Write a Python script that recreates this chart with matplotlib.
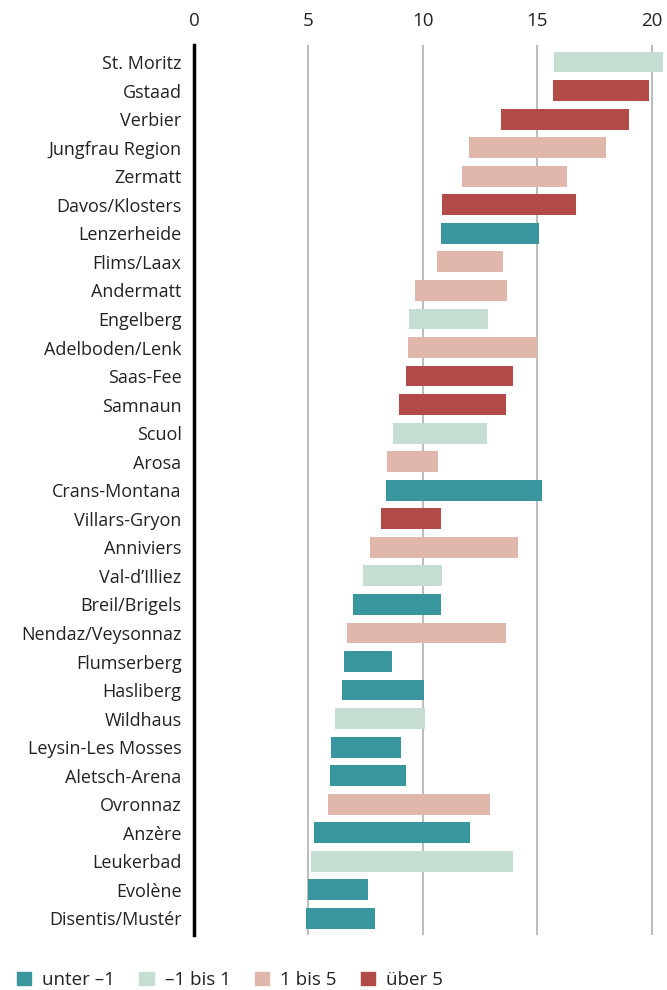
import matplotlib
matplotlib.use("Agg")
import matplotlib.pyplot as plt
from matplotlib.patches import Patch

plt.rcParams['font.family'] = ['Open Sans', 'DejaVu Sans']

resorts = ["St. Moritz", "Gstaad", "Verbier", "Jungfrau Region", "Zermatt", "Davos/Klosters",
           "Lenzerheide", "Flims/Laax", "Andermatt", "Engelberg", "Adelboden/Lenk", "Saas-Fee",
           "Samnaun", "Scuol", "Arosa", "Crans-Montana", "Villars-Gryon", "Anniviers",
           "Val-d\u2019Illiez", "Breil/Brigels", "Nendaz/Veysonnaz", "Flumserberg", "Hasliberg",
           "Wildhaus", "Leysin-Les Mosses", "Aletsch-Arena", "Ovronnaz", "Anzère", "Leukerbad",
           "Evolène", "Disentis/Mustér"]
start = [15.75, 15.7, 13.4, 12.0, 11.7, 10.85, 10.8, 10.6, 9.65, 9.4, 9.37, 9.28, 8.97, 8.7,
         8.45, 8.4, 8.18, 7.7, 7.4, 6.96, 6.7, 6.56, 6.48, 6.17, 6.0, 5.95, 5.86, 5.25, 5.12,
         5.0, 4.9]
end = [20.5, 19.9, 19.0, 18.0, 16.3, 16.7, 15.1, 13.5, 13.7, 12.85, 15.0, 13.95, 13.65, 12.8,
       10.65, 15.2, 10.8, 14.15, 10.85, 10.8, 13.65, 8.66, 10.03, 10.1, 9.05, 9.28, 12.95,
       12.08, 13.95, 7.62, 7.9]
# 0 = unter -1, 1 = -1 bis 1, 2 = 1 bis 5, 3 = über 5
group = [1, 3, 3, 2, 2, 3, 0, 2, 2, 1, 2, 3, 3, 1, 2, 0, 3, 2, 1, 0, 2, 0, 0, 1, 0, 0, 2, 0, 1, 0, 0]
group_labels = ["unter \u20131", "\u20131 bis 1", "1 bis 5", "über 5"]
colors = ["#3A969E", "#C6DDD2", "#DFB8AB", "#B24A48"]

fig = plt.figure(figsize=(6.67, 9.9), dpi=100)
ax = fig.add_axes([0.291, 0.0556, 0.703, 0.899])

ypos = list(range(len(resorts)))
widths = [e - s for s, e in zip(start, end)]
ax.barh(ypos, widths, left=start, height=0.73, color=[colors[g] for g in group], zorder=3)

ax.set_xlim(0, 20.5)
ax.set_ylim(len(resorts) - 0.42, -0.6)
ax.set_xticks([0, 5, 10, 15, 20])
ax.xaxis.tick_top()
ax.tick_params(axis='x', length=0, pad=11, labelsize=13.5, colors='#222222')
ax.set_yticks(ypos)
ax.set_yticklabels(resorts)
ax.tick_params(axis='y', length=0, pad=9, labelsize=13, colors='#222222')
ax.grid(axis='x', color='#b0b0b0', linewidth=1.2, zorder=0)
for s in ['top', 'right', 'bottom']:
    ax.spines[s].set_visible(False)
ax.spines['left'].set_linewidth(2.5)
ax.spines['left'].set_color('black')
ax.spines['left'].set_zorder(5)

handles = [Patch(color=c, label=l) for c, l in zip(colors, group_labels)]
fig.legend(handles=handles, loc='lower left', bbox_to_anchor=(0.0, -0.016), ncol=4,
           frameon=False, fontsize=13.5, handlelength=0.75, handleheight=0.75,
           handletextpad=0.6, columnspacing=1.3, labelcolor='#222222')

fig.savefig("out.png", dpi=100)
